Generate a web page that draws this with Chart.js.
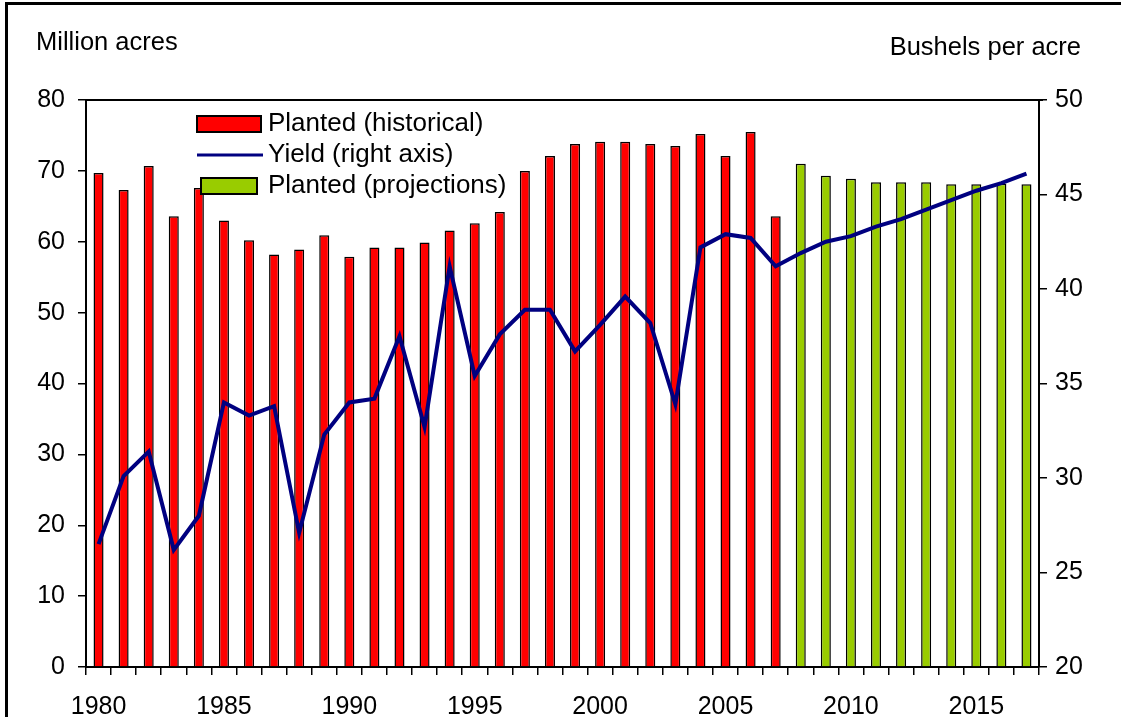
<!DOCTYPE html>
<html>
<head>
<meta charset="utf-8">
<script src="https://cdn.jsdelivr.net/npm/chart.js@4/dist/chart.umd.min.js"></script>
<style>
  body { margin: 0; background: #fff; }
  #wrap { position: relative; width: 1121px; height: 717px; overflow: hidden; }
  #frame { position: absolute; left: 5px; top: 2px; right: -10px; bottom: -10px; border-top: 3px solid #000; border-left: 3px solid #000; pointer-events: none; }
</style>
</head>
<body>
<div id="wrap">
  <canvas id="chart" width="1121" height="717"></canvas>
  <div id="frame"></div>
</div>
<script>
// categories
const years = [1980,1981,1982,1983,1984,1985,1986,1987,1988,1989,1990,1991,1992,1993,1994,1995,1996,1997,1998,1999,
               2000,2001,2002,2003,2004,2005,2006,2007,2008,2009,2010,2011,2012,2013,2014,2015,2016,2017];
// planted area, million acres (1980-2007 historical, 2008-2017 projections)
const plantedHist = [69.7,67.3,70.7,63.6,67.6,63.0,60.2,58.2,58.9,60.9,57.9,59.2,59.2,59.9,61.6,62.6,64.2,70.0,72.1,73.8,
                     74.1,74.1,73.8,73.5,75.2,72.1,75.5,63.6];
const plantedProj = [71.0,69.3,68.9,68.4,68.4,68.4,68.1,68.1,68.2,68.1];
// yield, bushels per acre
const yieldVals = [26.5,30.1,31.4,26.2,28.0,34.0,33.3,33.8,27.1,32.3,34.0,34.2,37.5,32.7,41.2,35.4,37.6,38.9,38.9,36.7,
                   38.1,39.6,38.2,33.9,42.2,42.9,42.7,41.2,41.9,42.5,42.8,43.3,43.7,44.2,44.7,45.2,45.6,46.1];
const leftTicks = [0,10,20,30,40,50,60,70,80];
const rightTicks = [20,25,30,35,40,45,50];

const FONT = '"Liberation Sans", Arial, sans-serif';
const histData = years.map((y, i) => i < plantedHist.length ? plantedHist[i] : null);
const projData = years.map((y, i) => i >= plantedHist.length ? plantedProj[i - plantedHist.length] : null);

// titles over the axes, top line of the plot box and the inside legend
const decor = {
  id: 'decor',
  afterDraw(chart) {
    const { ctx, chartArea: a } = chart;
    ctx.save();
    ctx.strokeStyle = '#000'; ctx.lineWidth = 2;
    ctx.beginPath(); ctx.moveTo(a.left, a.top); ctx.lineTo(a.right + 4, a.top); ctx.stroke();

    ctx.fillStyle = '#000';
    ctx.font = '25.5px ' + FONT;
    ctx.textBaseline = 'middle';
    ctx.textAlign = 'left';  ctx.fillText('Million acres', 36, 43);
    ctx.textAlign = 'right'; ctx.fillText('Bushels per acre', 1081, 48);

    const ds = chart.data.datasets;
    const items = [ds[1], ds[0], ds[2]];
    const x0 = a.left + 111, tx = a.left + 182;
    ctx.font = '26px ' + FONT;
    items.forEach((d, i) => {
      const cy = a.top + 24 + i * 31;
      if (d.type === 'line') {
        ctx.strokeStyle = d.borderColor; ctx.lineWidth = 3;
        ctx.beginPath(); ctx.moveTo(x0, cy); ctx.lineTo(x0 + 66, cy); ctx.stroke();
      } else {
        const inset = i === 2 ? 4 : 0;
        ctx.fillStyle = d.backgroundColor;
        ctx.fillRect(x0 + inset, cy - 8, 64 - inset * 2, 16);
        ctx.strokeStyle = '#000'; ctx.lineWidth = 2;
        ctx.strokeRect(x0 + inset, cy - 8, 64 - inset * 2, 16);
      }
      ctx.fillStyle = '#000';
      ctx.textAlign = 'left';
      ctx.fillText(d.label, tx, cy);
    });
    ctx.restore();
  }
};

new Chart(document.getElementById('chart'), {
  data: {
    labels: years,
    datasets: [
      { type: 'line', label: 'Yield (right axis)', data: yieldVals, yAxisID: 'y1', borderColor: '#000080',
        borderWidth: 4, pointRadius: 0, tension: 0, order: 0 },
      { type: 'bar', label: 'Planted (historical)', data: histData, yAxisID: 'y', backgroundColor: '#ff0000',
        borderColor: '#000', borderWidth: 1.5, grouped: false, barPercentage: 0.4, categoryPercentage: 1, order: 1 },
      { type: 'bar', label: 'Planted (projections)', data: projData, yAxisID: 'y', backgroundColor: '#99cc00',
        borderColor: '#000', borderWidth: 1.5, grouped: false, barPercentage: 0.4, categoryPercentage: 1, order: 1 }
    ]
  },
  options: {
    responsive: false,
    animation: false,
    layout: { padding: { top: 100, left: 0, right: 0, bottom: 0 } },
    plugins: { legend: { display: false }, tooltip: { enabled: false } },
    scales: {
      x: {
        offset: true,
        grid: { offset: true, drawOnChartArea: false, color: '#000', lineWidth: 1.5, tickLength: 8 },
        border: { color: '#000', width: 2 },
        ticks: { autoSkip: false, maxRotation: 0, color: '#000', font: { family: FONT, size: 25 }, padding: 17,
                 callback: (v, i) => years[i] % 5 === 0 ? String(years[i]) : '' },
        afterFit: s => { s.height = 50; }
      },
      y: {
        position: 'left', min: 0, max: 80,
        afterBuildTicks: s => { s.ticks = leftTicks.map(v => ({ value: v })); },
        grid: { drawOnChartArea: false, color: '#000', lineWidth: 1.5, tickLength: 8 },
        border: { color: '#000', width: 2 },
        ticks: { color: '#000', font: { family: FONT, size: 25 }, padding: 13 },
        afterFit: s => { s.width = 86; }
      },
      y1: {
        position: 'right', min: 20, max: 50,
        afterBuildTicks: s => { s.ticks = rightTicks.map(v => ({ value: v })); },
        grid: { drawOnChartArea: false, color: '#000', lineWidth: 1.5, tickLength: 8 },
        border: { color: '#000', width: 2 },
        ticks: { color: '#000', font: { family: FONT, size: 25 }, padding: 8 },
        afterFit: s => { s.width = 82; }
      }
    }
  },
  plugins: [decor]
});
</script>
</body>
</html>
